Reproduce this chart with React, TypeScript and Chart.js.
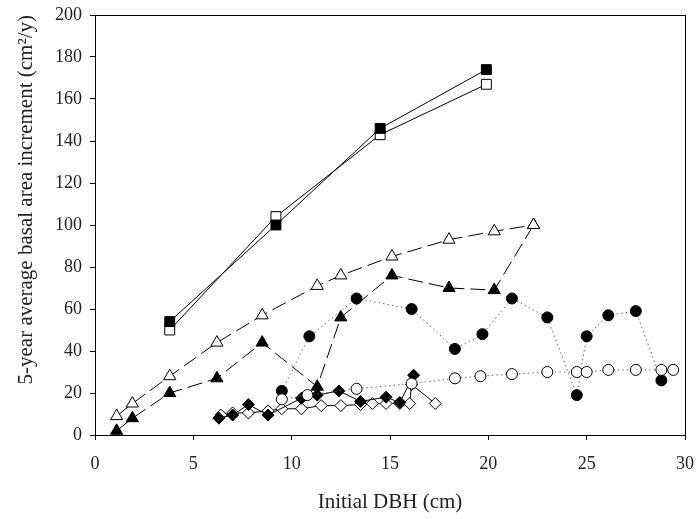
import React, { useEffect, useRef } from "react";
import { Chart, registerables } from "chart.js";

Chart.register(...registerables);

// Squares (solid lines)
const sqX = [3.8, 9.2, 14.5, 19.9];
const sqFilledY = [54, 100, 146, 174];
const sqOpenY = [50, 104, 143, 167];

// Triangles (long dashed lines)
const triX = [1.1, 1.9, 3.8, 6.2, 8.5, 11.3, 12.5, 15.1, 18.0, 20.3, 22.3];
const triOpenY = [9, 15, 28, 44, 57, 71, 76, 85, 93, 97, 100];
const triFilledY = [2, 8, 20, 27, 44, 23, 56, 76, 70, 69, 100];

// Circles (dotted lines)
const circFilledX = [9.5, 10.9, 13.3, 16.1, 18.3, 19.7, 21.2, 23.0, 24.5, 25.0, 26.1, 27.5, 28.8];
const circFilledY = [21, 47, 65, 60, 41, 48, 65, 56, 19, 47, 57, 59, 26];
const circOpenX = [9.5, 10.8, 13.3, 16.1, 18.3, 19.6, 21.2, 23.0, 24.5, 25.0, 26.1, 27.5, 28.8, 29.4];
const circOpenY = [17, 19, 22, 24.5, 27, 28, 29, 30, 30, 30, 31, 31, 31, 31];

// Diamonds (solid lines)
const diaFilledX = [6.3, 7.0, 7.8, 8.8, 10.5, 11.3, 12.4, 13.5, 14.8, 15.5, 16.2];
const diaFilledY = [8, 9.5, 14.5, 9.5, 17.5, 19, 21, 16, 18, 15.5, 28.5];
const diaOpenX = [6.4, 7.0, 7.8, 8.8, 9.5, 10.5, 11.5, 12.5, 13.5, 14.1, 14.8, 15.5, 16.0, 16.1, 17.3];
const diaOpenY = [9.5, 10.5, 10.5, 11.5, 12.5, 12.5, 14, 14, 14.5, 15, 15, 15, 15, 24, 15];

const xTicks = [0, 5, 10, 15, 20, 25, 30];
const yTicks = [0, 20, 40, 60, 80, 100, 120, 140, 160, 180, 200];

const xTitle = "Initial DBH (cm)";
const yTitle = "5-year average basal area increment (cm²/y)";

const pts = (xs: number[], ys: number[]) => xs.map((x, i) => ({ x, y: ys[i] }));

const FONT = "'Liberation Serif', 'Times New Roman', serif";

export default function App() {
  const ref = useRef<HTMLCanvasElement | null>(null);

  useEffect(() => {
    if (!ref.current) return;
    const boxPlugin = {
      id: "box",
      afterDraw(chart: any) {
        const { ctx, chartArea } = chart;
        ctx.save();
        ctx.strokeStyle = "#000";
        ctx.lineWidth = 1;
        ctx.strokeRect(
          Math.round(chartArea.left) + 0.5,
          Math.round(chartArea.top) + 0.5,
          Math.round(chartArea.right - chartArea.left),
          Math.round(chartArea.bottom - chartArea.top)
        );
        ctx.restore();
      },
    };

    const base = {
      showLine: true,
      borderColor: "#000",
      borderWidth: 1,
      pointBorderColor: "#000",
      pointBorderWidth: 1,
    };

    const chart = new Chart(ref.current, {
      type: "scatter",
      data: {
        datasets: [
          {
            ...base,
            label: "sqFilled",
            data: pts(sqX, sqFilledY),
            pointStyle: "rect",
            pointRadius: 7,
            pointBackgroundColor: "#000",
          },
          {
            ...base,
            label: "sqOpen",
            data: pts(sqX, sqOpenY),
            pointStyle: "rect",
            pointRadius: 7,
            pointBackgroundColor: "#fff",
          },
          {
            ...base,
            label: "triOpen",
            data: pts(triX, triOpenY),
            pointStyle: "triangle",
            pointRadius: 7,
            pointBackgroundColor: "#fff",
            borderDash: [15, 6],
          },
          {
            ...base,
            label: "triFilled",
            data: pts(triX, triFilledY),
            pointStyle: "triangle",
            pointRadius: 7,
            pointBackgroundColor: "#000",
            borderDash: [15, 6],
          },
          {
            ...base,
            label: "circOpen",
            data: pts(circOpenX, circOpenY),
            pointStyle: "circle",
            pointRadius: 5.5,
            pointBackgroundColor: "#fff",
            borderColor: "#666",
            borderDash: [1.5, 3],
          },
          {
            ...base,
            label: "circFilled",
            data: pts(circFilledX, circFilledY),
            pointStyle: "circle",
            pointRadius: 5.5,
            pointBackgroundColor: "#000",
            borderColor: "#666",
            borderDash: [1.5, 3],
          },
          {
            ...base,
            label: "diaFilled",
            data: pts(diaFilledX, diaFilledY),
            pointStyle: "rectRot",
            pointRadius: 6,
            pointBackgroundColor: "#000",
          },
          {
            ...base,
            label: "diaOpen",
            data: pts(diaOpenX, diaOpenY),
            pointStyle: "rectRot",
            pointRadius: 6,
            pointBackgroundColor: "#fff",
          },
        ],
      },
      options: {
        animation: false,
        responsive: false,
        maintainAspectRatio: false,
        layout: { padding: { left: 0, right: 15, top: 15, bottom: 0 } },
        plugins: {
          legend: { display: false },
          tooltip: { enabled: false },
        },
        scales: {
          x: {
            type: "linear",
            min: 0,
            max: 30,
            afterBuildTicks: (s: any) => {
              s.ticks = xTicks.map((v) => ({ value: v }));
            },
            afterFit: (s: any) => {
              s.height = 84;
              s.paddingLeft = 0;
              s.paddingRight = 0;
            },
            grid: {
              drawOnChartArea: false,
              drawTicks: true,
              tickLength: 5,
              color: "#000",
            },
            border: { display: true, color: "#000" },
            ticks: {
              color: "#222",
              font: { family: FONT, size: 18 },
              padding: 13,
              maxRotation: 0,
            },
            title: {
              display: true,
              text: xTitle,
              color: "#222",
              font: { family: FONT, size: 21 },
              padding: { top: 0, bottom: 4 },
            },
          },
          y: {
            type: "linear",
            min: 0,
            max: 200,
            afterBuildTicks: (s: any) => {
              s.ticks = yTicks.map((v) => ({ value: v }));
            },
            afterFit: (s: any) => {
              s.width = 95;
              s.paddingTop = 0;
              s.paddingBottom = 0;
            },
            grid: {
              drawOnChartArea: false,
              drawTicks: true,
              tickLength: 5,
              color: "#000",
            },
            border: { display: true, color: "#000" },
            ticks: {
              color: "#222",
              font: { family: FONT, size: 18 },
              padding: 8,
            },
            title: {
              display: true,
              text: yTitle,
              color: "#222",
              align: "end",
              font: { family: FONT, size: 21 },
              padding: { top: 14, bottom: 0 },
            },
          },
        },
      },
      plugins: [boxPlugin],
    } as any);

    return () => chart.destroy();
  }, []);

  return (
    <div style={{ position: "absolute", left: 0, top: 0, width: 700, height: 519, background: "#fff" }}>
      <canvas ref={ref} width={700} height={519} style={{ width: 700, height: 519, display: "block" }} />
    </div>
  );
}
